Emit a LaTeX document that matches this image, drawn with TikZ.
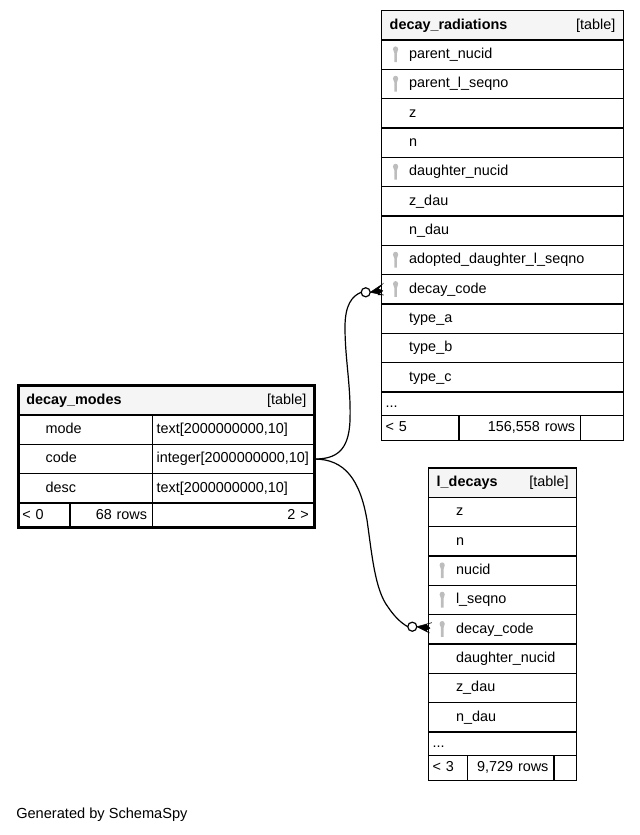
\documentclass[tikz,border=0pt]{standalone}
\usepackage{fontspec}
\setmainfont{Liberation Sans}
\usetikzlibrary{positioning,fit}
\definecolor{headgray}{HTML}{F5F5F5}
\definecolor{keygray}{HTML}{BDBDBD}

\begin{document}
\begin{tikzpicture}[x=.75pt,y=-.75pt,
      cell/.style={draw,line width=.9pt,rectangle,outer sep=0pt,inner xsep=3pt,inner ysep=0pt,
        minimum height=22pt,text width=#1,align=left,text height=8pt,text depth=2.5pt,
        font=\fontsize{10.8pt}{12pt}\selectfont},
      row/.style={cell=#1,execute at begin node={\hspace*{17.5pt}}},
      head/.style={cell=#1,inner xsep=6pt,fill=headgray},
      foot/.style={cell=#1,minimum height=18.5pt},
      footr/.style={foot=#1,align=right,execute at end node={\hspace*{1.2pt}}},
      crow/.style={fill=black,line width=.4pt},
      link/.style={line width=.9pt},
      dot/.style={circle,draw,line width=.9pt,fill=white,inner sep=0pt,minimum size=6.8pt,outer sep=0pt},
      keyicon/.pic={
        \fill[keygray] (-2.6,-5.5) .. controls (-2.6,-9.2) and (2.6,-9.2) .. (2.6,-5.5)
          .. controls (2.6,-3.2) and (1.4,-3) .. (1.4,-1.5) -- (1.4,7.5) -- (-1.2,7.5) -- (-1.2,-1.5)
          .. controls (-1.2,-3) and (-2.6,-3.2) .. (-2.6,-5.5) -- cycle;
      }]

      \useasboundingbox (0,0) rectangle (639,835);

      % decay_radiations
      \node[head=169.2pt,anchor=north west] (radhead) at (381.7,10.7) {\textbf{decay\_radiations}\hfill[table]};
      \node[row=175.2pt,below=0pt of radhead] (radparent) {parent\_nucid};
      \node[row=175.2pt,below=0pt of radparent] (radseqno) {parent\_l\_seqno};
      \node[row=175.2pt,below=0pt of radseqno] (radz) {z};
      \node[row=175.2pt,below=0pt of radz] (radn) {n};
      \node[row=175.2pt,below=0pt of radn] (raddaughter) {daughter\_nucid};
      \node[row=175.2pt,below=0pt of raddaughter] (radzdau) {z\_dau};
      \node[row=175.2pt,below=0pt of radzdau] (radndau) {n\_dau};
      \node[row=175.2pt,below=0pt of radndau] (radadopted) {adopted\_daughter\_l\_seqno};
      \node[row=175.2pt,below=0pt of radadopted] (radcode) {decay\_code};
      \node[row=175.2pt,below=0pt of radcode] (radtypea) {type\_a};
      \node[row=175.2pt,below=0pt of radtypea] (radtypeb) {type\_b};
      \node[row=175.2pt,below=0pt of radtypeb] (radtypec) {type\_c};
      \node[cell=175.2pt,minimum height=17.8pt,below=0pt of radtypec] (radmore) {...};
      \node[foot=52pt,anchor=north west] (radparents) at (radmore.south west) {< 5};
      \node[footr=85.3pt,right=0pt of radparents] (radrows) {156,558 rows};
      \node[foot=26pt,right=0pt of radrows] (radchildren) {};

      % l_decays
      \node[head=99pt,anchor=north west] (ldechead) at (428.7,468) {\textbf{l\_decays}\hfill[table]};
      \node[row=105pt,below=0pt of ldechead] (ldecz) {z};
      \node[row=105pt,below=0pt of ldecz] (ldecn) {n};
      \node[row=105pt,below=0pt of ldecn] (ldecnucid) {nucid};
      \node[row=105pt,below=0pt of ldecnucid] (ldecseqno) {l\_seqno};
      \node[row=105pt,below=0pt of ldecseqno] (ldeccode) {decay\_code};
      \node[row=105pt,below=0pt of ldeccode] (ldecdaughter) {daughter\_nucid};
      \node[row=105pt,below=0pt of ldecdaughter] (ldeczdau) {z\_dau};
      \node[row=105pt,below=0pt of ldeczdau] (ldecndau) {n\_dau};
      \node[cell=105pt,minimum height=17.8pt,below=0pt of ldecndau] (ldecmore) {...};
      \node[foot=23pt,anchor=north west] (ldecparents) at (ldecmore.south west) {< 3};
      \node[footr=59pt,right=0pt of ldecparents] (ldecrows) {9,729 rows};
      \node[foot=11pt,right=0pt of ldecrows] (ldecchildren) {};

      % decay_modes
      \node[head=210pt,anchor=north west] (modehead) at (18.3,385.7) {\textbf{decay\_modes}\hfill[table]};
      \node[row=94.8pt,anchor=north west] (modename) at (modehead.south west) {mode};
      \node[cell=115.2pt,right=0pt of modename] (modenametype) {text[2000000000,10]};
      \node[row=94.8pt,below=0pt of modename] (modecode) {code};
      \node[cell=115.2pt,right=0pt of modecode] (modecodetype) {integer[2000000000,10]};
      \node[row=94.8pt,below=0pt of modecode] (modedesc) {desc};
      \node[cell=115.2pt,right=0pt of modedesc] (modedesctype) {text[2000000000,10]};
      \node[foot=32.8pt,anchor=north west] (modeparents) at (modedesc.south west) {< 0};
      \node[footr=56pt,right=0pt of modeparents] (moderows) {68 rows};
      \node[footr=115.2pt,right=0pt of moderows] (modechildren) {2 >};
      \node[fit=(modehead)(modechildren),draw,line width=2.4pt,inner sep=0pt] (modeframe) {};

      % keys
      \pic at ([xshift=10.4pt]radparent.west) {keyicon};
      \pic at ([xshift=10.4pt]radseqno.west) {keyicon};
      \pic at ([xshift=10.4pt]raddaughter.west) {keyicon};
      \pic at ([xshift=10.4pt]radadopted.west) {keyicon};
      \pic at ([xshift=10.4pt]radcode.west) {keyicon};
      \pic at ([xshift=10.1pt]ldecnucid.west) {keyicon};
      \pic at ([xshift=10.1pt]ldecseqno.west) {keyicon};
      \pic at ([xshift=10.1pt]ldeccode.west) {keyicon};

      % relationships
      \node[dot] (raddot) at (365.7,292.3) {};
      \node[dot] (ldecdot) at (412.3,626.7) {};
      \draw[link] (modecodetype.east) .. controls (335,459) and (349,452) .. (350,420)
        .. controls (351,385) and (345,360) .. (345,327)
        .. controls (345,305) and (352,296) .. (raddot.west);
      \draw[link] (modecodetype.east) .. controls (345,459) and (360,480) .. (367,520)
        .. controls (372,555) and (375,590) .. (388,607)
        .. controls (394,616) and (401,623) .. (ldecdot.west);
      \draw[crow] (raddot.east) -- +(12,-8) -- +(8,-3.5) -- +(12.5,-1.5) -- +(8,2.5) -- +(13.3,2.7) -- cycle;
      \draw[crow] (ldecdot.east) -- +(15,-4) -- +(9,-2.5) -- +(13,1.5) -- +(9,4) -- +(12.7,6.3) -- cycle;

      \node[anchor=west,inner sep=0pt,font=\fontsize{10.95pt}{12pt}\selectfont] (generated) at (16,815) {Generated by SchemaSpy};
    \end{tikzpicture}
\end{document}
